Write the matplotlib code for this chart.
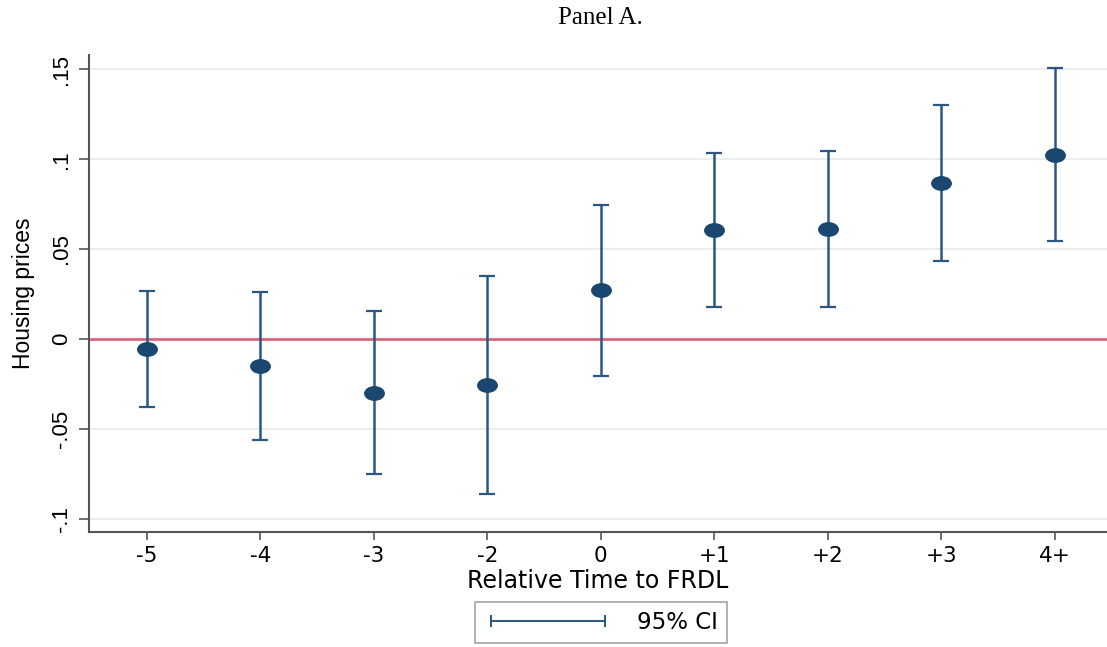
#!/usr/bin/env python3
"""Event-study coefficients with 95% CI (Panel A)."""

import matplotlib

matplotlib.use("Agg")
import matplotlib.pyplot as plt
from matplotlib.lines import Line2D
from matplotlib.path import Path
from matplotlib.transforms import Affine2D

# values
periods = ["-5", "-4", "-3", "-2", "0", "+1", "+2", "+3", "4+"]
coef = [-0.0056, -0.0150, -0.0300, -0.0257, 0.0273, 0.0607, 0.0613, 0.0870, 0.1025]
ci_low = [-0.0380, -0.0563, -0.0753, -0.0865, -0.0206, 0.0178, 0.0178, 0.0435, 0.0546]
ci_high = [0.0268, 0.0260, 0.0156, 0.0350, 0.0746, 0.1036, 0.1047, 0.1300, 0.1505]
y_ticks = [-0.1, -0.05, 0.0, 0.05, 0.1, 0.15]
y_tick_labels = ["-.1", "-.05", "0", ".05", ".1", ".15"]

NAVY = "#1a476f"
BAR = "#2c5781"
REF_RED = "#d9667f"
GRID = "#e8eff1"
SPINE = "#555555"
SANS = "Liberation Sans"
WIDE = "DejaVu Sans"


def main() -> None:
    fig = plt.figure(figsize=(11.07, 6.47), dpi=100)
    ax = fig.add_axes([0.0804, 0.1777, 0.9196, 0.7373])

    x = list(range(len(periods)))
    err_lo = [c - lo for c, lo in zip(coef, ci_low)]
    err_hi = [hi - c for c, hi in zip(coef, ci_high)]

    ax.axhline(0, color=REF_RED, linewidth=2.0, zorder=1)
    ax.errorbar(x, coef, yerr=[err_lo, err_hi], fmt="none", ecolor=BAR,
                elinewidth=1.8, capsize=5.5, capthick=1.6, zorder=2)
    oval = Path.unit_circle().transformed(Affine2D().scale(1.45, 1.0))
    ax.plot(x, coef, linestyle="none", marker=oval, markersize=14,
            color=NAVY, zorder=3)

    ax.set_xlim(-0.51, 8.46)
    ax.set_ylim(-0.1075, 0.158)
    ax.set_xticks(x, periods)
    ax.set_yticks(y_ticks, y_tick_labels)
    ax.yaxis.grid(True, color=GRID, linewidth=1.5)
    ax.set_axisbelow(True)

    for side in ("top", "right"):
        ax.spines[side].set_visible(False)
    for side in ("left", "bottom"):
        ax.spines[side].set_color(SPINE)
        ax.spines[side].set_linewidth(1.5)

    ax.tick_params(axis="y", length=7, width=1.2, color=SPINE, pad=5,
                   labelsize=16, labelrotation=90)
    ax.tick_params(axis="x", length=6, width=1.2, color=SPINE, pad=4,
                   labelsize=15.5)
    for lab in ax.get_yticklabels():
        lab.set_fontfamily(SANS)
        lab.set_verticalalignment("center")
    for lab in ax.get_xticklabels():
        lab.set_fontfamily(WIDE)

    ax.set_ylabel("Housing prices", fontsize=16.5, family=SANS, labelpad=12)
    ax.set_xlabel("Relative Time to FRDL", fontsize=17, family=WIDE,
                  labelpad=2)

    fig.text(0.542, 0.972, "Panel A.", ha="center", va="center",
             fontsize=18, family="Liberation Serif")

    handle = Line2D([], [], color=BAR, linewidth=1.4, marker="|",
                    markersize=9, markeredgewidth=1.4)
    leg = fig.legend([handle], ["95% CI"], loc="center",
                     bbox_to_anchor=(0.543, 0.0375), numpoints=2,
                     handlelength=5.6, handletextpad=1.1, borderpad=0.4,
                     borderaxespad=0, fancybox=False, edgecolor="#8c8c8c",
                     prop={"family": WIDE, "size": 16.5})
    leg.get_frame().set_linewidth(1.2)

    fig.savefig("out.png", dpi=100)
    plt.close(fig)


if __name__ == "__main__":
    main()
